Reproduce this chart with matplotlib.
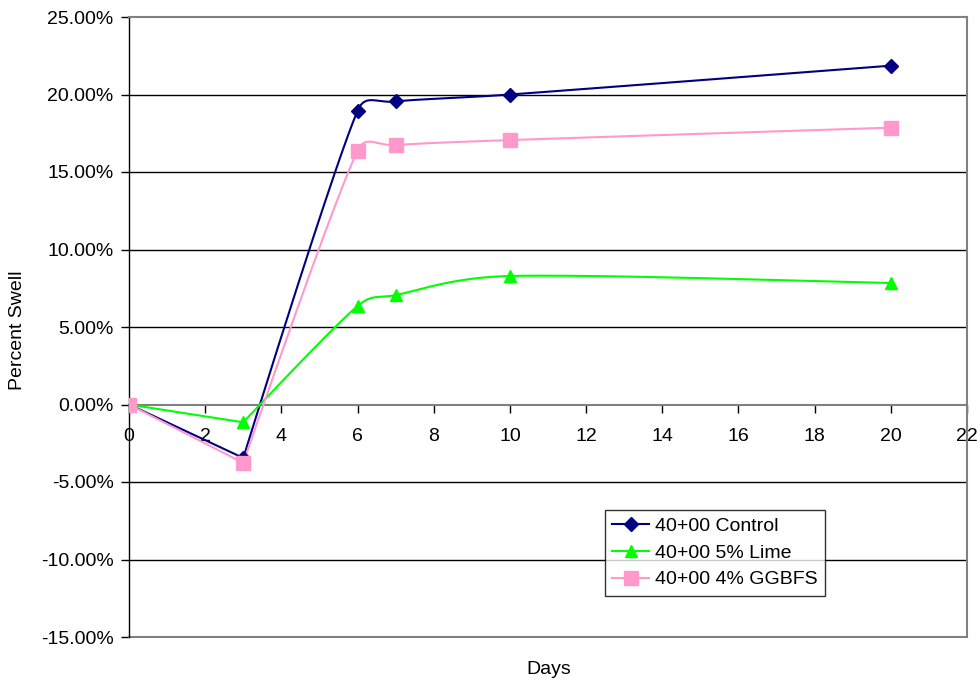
import numpy as np
import matplotlib
matplotlib.use("Agg")
import matplotlib.pyplot as plt
from matplotlib.ticker import FuncFormatter, MultipleLocator

plt.rcParams['font.family'] = ['Liberation Sans', 'DejaVu Sans']

days = [0, 3, 6, 7, 10, 20]
control = [0.0, -3.45, 18.95, 19.55, 20.0, 21.86]
lime = [0.0, -1.15, 6.35, 7.06, 8.29, 7.84]
ggbfs = [0.0, -3.77, 16.37, 16.74, 17.06, 17.86]
labels = ["40+00 Control", "40+00 5% Lime", "40+00 4% GGBFS"]

fig = plt.figure(figsize=(9.8, 6.84), dpi=100)
ax = fig.add_axes([129 / 980, 1 - 637 / 684, (967 - 129) / 980, (637 - 17) / 684])
ax.set_xlim(0, 22)
ax.set_ylim(-15, 25)


def smooth(x, y, n=40):
    # Excel-style Bezier smoothing computed in screen space
    P = ax.transData.transform(np.column_stack([x, y]).astype(float))
    m = len(P)
    # corner detection: sharp reversals in direction get no handles
    corner = [False] * m
    for i in range(1, m - 1):
        a = P[i] - P[i - 1]
        b = P[i + 1] - P[i]
        cosang = np.dot(a, b) / (np.linalg.norm(a) * np.linalg.norm(b))
        if a[1] * b[1] < 0 and cosang < 0.9:
            corner[i] = True
    out = [P[0]]
    t = np.linspace(0, 1, n)[1:]
    f = 1.0 / 6.0
    for i in range(m - 1):
        p0 = P[i - 1] if i > 0 else P[i]
        p1 = P[i]
        p2 = P[i + 1]
        p3 = P[i + 2] if i + 2 < m else P[i + 1]
        d12 = np.linalg.norm(p2 - p1)
        d02 = np.linalg.norm(p2 - p0)
        d13 = np.linalg.norm(p3 - p1)
        f1 = f if d02 * f < d12 / 2 else d12 / (2 * d02)
        f2 = f if d13 * f < d12 / 2 else d12 / (2 * d13)
        c1 = p1 + (0 if corner[i] else f1) * (p2 - p0)
        c2 = p2 - (0 if corner[i + 1] else f2) * (p3 - p1)
        for tt in t:
            out.append(((1 - tt) ** 3) * p1 + 3 * ((1 - tt) ** 2) * tt * c1
                       + 3 * (1 - tt) * tt ** 2 * c2 + tt ** 3 * p2)
    out = ax.transData.inverted().transform(np.array(out))
    return out[:, 0], out[:, 1]


series = [
    (control, "#000080", "D", 7.0, labels[0]),
    (lime, "#00FF00", "^", 8.0, labels[1]),
    (ggbfs, "#FF99CC", "s", 9.5, labels[2]),
]
handles = []
for vals, col, mk, ms, lab in series:
    sx, sy = smooth(days, vals)
    ax.plot(sx, sy, color=col, lw=1.5, zorder=3)
    ax.plot(days, vals, linestyle='none', marker=mk, color=col, markersize=ms,
            markeredgecolor=col, zorder=4)
    h, = ax.plot([], [], color=col, lw=1.5, marker=mk, markersize=ms,
                 markeredgecolor=col)
    handles.append(h)

ax.xaxis.set_major_locator(MultipleLocator(2))
ax.yaxis.set_major_locator(MultipleLocator(5))
ax.yaxis.set_major_formatter(FuncFormatter(lambda v, p: f"{v:.2f}%"))

for yv in [-10, -5, 5, 10, 15, 20]:
    ax.axhline(yv, color='black', lw=1.0, zorder=1)

for s in ['top', 'right']:
    ax.spines[s].set_color('#808080')
    ax.spines[s].set_linewidth(1.5)
ax.spines['left'].set_color('black')
ax.spines['left'].set_linewidth(1.0)
ax.spines['bottom'].set_position(('data', 0))
ax.spines['bottom'].set_color('#808080')
ax.spines['bottom'].set_linewidth(1.5)
ax.spines['bottom'].set_zorder(2)
ax.plot([0, 22], [-15, -15], color='#808080', lw=1.5, clip_on=False, zorder=2)

ax.tick_params(axis='y', direction='out', length=6, width=1, color='black',
               labelsize=14, pad=5)
ax.tick_params(axis='x', direction='out', length=6, width=1, color='black',
               labelsize=14, pad=11)

fig.text(18 / 980, 1 - 330 / 684, "Percent Swell", fontsize=14, rotation=90,
         ha='center', va='center')
fig.text(549 / 980, 1 - 670 / 684, "Days", fontsize=14, ha='center', va='center')

leg = ax.legend(handles, labels, loc='upper left',
                bbox_to_anchor=((605 - 129) / 838, (637 - 510) / 620),
                frameon=True, fancybox=False, edgecolor='black', fontsize=14,
                handlelength=1.9, handletextpad=0.3, borderpad=0.38,
                labelspacing=0.47, borderaxespad=0)
leg.get_frame().set_linewidth(1.0)
leg.set_zorder(5)

fig.savefig("out.png", dpi=100)
